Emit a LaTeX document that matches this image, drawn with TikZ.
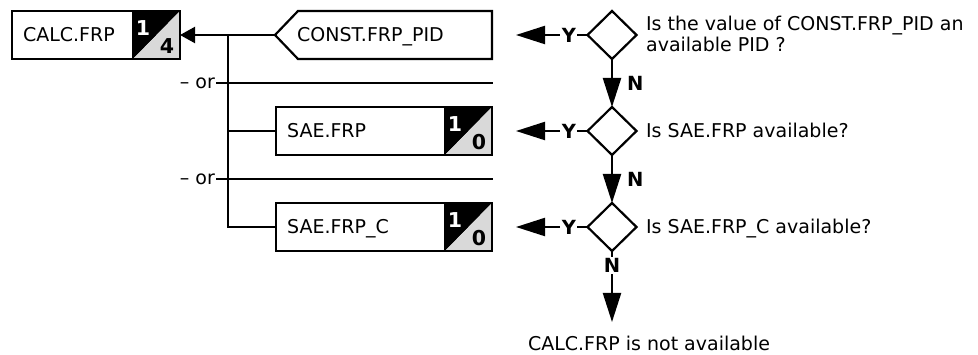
\documentclass[tikz,border=0pt]{standalone}
\usepackage{fontspec}
\setmainfont{DejaVu Sans}
\usetikzlibrary{arrows.meta,shapes.geometric}
\definecolor{sqgray}{RGB}{217,217,217}
\newcommand\splitsq[3]{%
  \fill[black] ([shift={(-47,0)}]#1.north east) -- (#1.north east) -- ([shift={(-47,0)}]#1.south east) -- cycle;
  \fill[sqgray] (#1.north east) -- (#1.south east) -- ([shift={(-47,0)}]#1.south east) -- cycle;
  \draw ([shift={(-47,0)}]#1.north east) -- ([shift={(-47,0)}]#1.south east);
  \draw (#1.north west) rectangle (#1.south east);
  \node[digit, text=white] (#1-top) at ([shift={(-37,17)}]#1.north east) {#2};
  \node[digit] (#1-bot) at ([shift={(-13,-12.5)}]#1.south east) {#3};
}
\begin{document}
\begin{tikzpicture}[x=1pt,y=-1pt,line width=2.2pt,
  txt/.style={font=\fontsize{19}{22}\selectfont, inner sep=0pt},
  digit/.style={font=\fontsize{20.5}{22}\selectfont\bfseries, inner sep=0pt},
  lbl/.style={font=\fontsize{19.5}{22}\selectfont\bfseries, fill=white, inner sep=1.5pt},
  nlbl/.style={font=\fontsize{19.5}{22}\selectfont\bfseries, inner sep=0pt},
  box/.style={rectangle, minimum height=48pt, outer sep=0pt, inner sep=0pt},
  dia/.style={draw, diamond, minimum width=49pt, minimum height=48pt, inner sep=0pt, outer sep=0pt},
  bigarrow/.style={-{Triangle[length=29pt,width=18pt]}},
  smallarrow/.style={-{Triangle[length=15pt,width=16pt]}}]
\useasboundingbox (0,0) rectangle (978,355);

% result box
\node[box, minimum width=168pt] (calc) at (96,35) {};
\splitsq{calc}{1}{4}
\node[txt, anchor=base west] (calcT) at (22,42) {CALC.FRP};

% constant (pentagon)
\node[box, minimum width=194pt] (const) at (395,35) {};
\coordinate (constTip) at (275,35);
\draw (constTip) -- (const.north west) -- (const.north east) -- (const.south east) -- (const.south west) -- cycle;
\node[txt, anchor=base west] (constT) at (296,42) {CONST.FRP\_PID};

% source boxes
\node[box, minimum width=216pt] (sae) at (384,131) {};
\splitsq{sae}{1}{0}
\node[txt, anchor=base west] (saeT) at (286,138) {SAE.FRP};
\node[box, minimum width=216pt] (saec) at (384,227) {};
\splitsq{saec}{1}{0}
\node[txt, anchor=base west] (saecT) at (286,234) {SAE.FRP\_C};

% bus
\coordinate (bus) at (228,35);
\draw[smallarrow] (constTip) -- (calc.east);
\draw (bus) |- (sae.west);
\draw (bus) |- (saec.west);

% or lines
\node[txt, anchor=east] (or1) at (216,83) {– or};
\coordinate (or1end) at (493,83);
\draw (or1.east) -- (or1end);
\node[txt, anchor=east] (or2) at (216,179) {– or};
\coordinate (or2end) at (493,179);
\draw (or2.east) -- (or2end);

% decisions
\node[dia] (d1) at (612,35) {};
\node[dia] (d2) at (612,131) {};
\node[dia] (d3) at (612,227) {};
\coordinate (y1) at (516,35);
\coordinate (y2) at (516,131);
\coordinate (y3) at (516,227);
\coordinate (nend) at (612,322);
\draw[bigarrow] (d1.west) -- node[lbl, pos=0.26] {Y} (y1);
\draw[bigarrow] (d2.west) -- node[lbl, pos=0.26] {Y} (y2);
\draw[bigarrow] (d3.west) -- node[lbl, pos=0.26] {Y} (y3);
\draw[bigarrow] (d1.south) -- node[nlbl, right=14pt] {N} (d2.north);
\draw[bigarrow] (d2.south) -- node[nlbl, right=14pt] {N} (d3.north);
\draw[bigarrow] (d3.south) -- node[lbl, pos=0.2] {N} (nend);

% questions
\node[txt, anchor=base west] (q1a) at (645,31) {Is the value of CONST.FRP\_PID an};
\node[txt, anchor=base west] (q1b) at (645,52) {available PID ?};
\node[txt, anchor=base west] (q2) at (645,138) {Is SAE.FRP available?};
\node[txt, anchor=base west] (q3) at (645,234) {Is SAE.FRP\_C available?};
\node[txt, anchor=base west] (na) at (527,351) {CALC.FRP is not available};
\end{tikzpicture}
\end{document}
